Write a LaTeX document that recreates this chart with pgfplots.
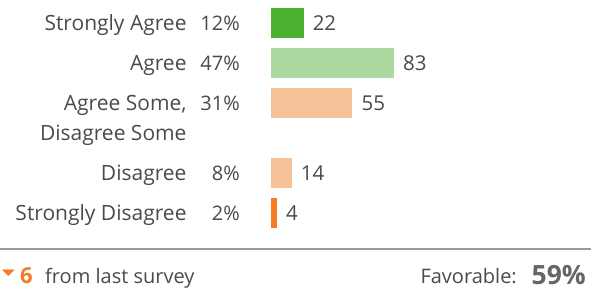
\documentclass[border=0pt]{standalone}
\usepackage{fontspec}
\setmainfont{Open Sans}
\newfontfamily\symfont{DejaVu Sans}
\usepackage{pgfplots}
\pgfplotsset{compat=1.18}
\definecolor{txt}{HTML}{4A4A4A}
\definecolor{cSA}{HTML}{4AB22F}
\definecolor{cA}{HTML}{ADD8A0}
\definecolor{cN}{HTML}{F5C196}
\definecolor{cSD}{HTML}{F57A24}
\definecolor{rule}{HTML}{9A9A9A}
\definecolor{fav}{HTML}{666666}
\begin{document}
\begin{tikzpicture}
\begin{axis}[
  scale only axis, width=601pt, height=289pt,
  xmin=-183.1, xmax=222.97, ymin=0, ymax=289, y dir=reverse,
  axis line style={draw=none}, tick style={draw=none},
  xtick=\empty,
  ytick={23,63,103,173,213},
  yticklabels={Strongly Agree, Agree, {\begin{tabular}[t]{@{}r@{}}Agree Some,\\Disagree Some\end{tabular}}, Disagree, Strongly Disagree},
  yticklabel style={anchor=base east, xshift=191pt, yshift=-7.5pt, inner sep=0pt, font=\fontsize{21}{30}\selectfont, text=txt},
  xbar, bar shift=0pt, bar width=30,
  nodes near coords,
  /pgf/number format/assume math mode=true,
  nodes near coords style={anchor=west, xshift=9pt, inner sep=0pt, font=\fontsize{20.5}{24}\selectfont, text=txt},
  point meta=x,
  clip=false,
]
\addplot[fill=cSA, draw=none] coordinates {(22,23)};
\addplot[fill=cA, draw=none] coordinates {(83,63)};
\addplot[fill=cN, draw=none] coordinates {(55,103)};
\addplot[fill=cN, draw=none] coordinates {(14,173)};
\addplot[fill=cSD, draw=none] coordinates {(4,213)};
\begin{scope}[every node/.style={anchor=base east, inner sep=0pt, font=\fontsize{20}{24}\selectfont, text=txt, yshift=-7.5pt}]
\node at (axis cs:-20.95,23) {12\%};
\node at (axis cs:-20.95,63) {47\%};
\node at (axis cs:-20.95,103) {31\%};
\node at (axis cs:-20.95,173) {8\%};
\node at (axis cs:-20.95,213) {2\%};
\end{scope}
\draw[rule, line width=2pt] (axis cs:-183.1,249) -- (axis cs:216.22,249);
\node[anchor=center, inner sep=0pt, text=cSD, font=\symfont\fontsize{17}{17}\selectfont] at (axis cs:-177.36,273) {\scalebox{1}[0.5]{▼}};
\node[anchor=base west, inner sep=0pt, text depth=0pt, text=cSD, font=\fontsize{22}{24}\selectfont\bfseries] at (axis cs:-169.59,283) {6};
\node[anchor=base west, inner sep=0pt, text depth=0pt, text=txt, font=\fontsize{20}{24}\selectfont] at (axis cs:-152.70,283) {from last survey};
\node[anchor=base east, inner sep=0pt, text depth=0pt, text=txt, font=\fontsize{20}{24}\selectfont] at (axis cs:166.22,283) {Favorable:};
\node[anchor=base east, inner sep=0pt, text depth=0pt, text=fav, font=\fontsize{26.5}{28}\selectfont\bfseries] at (axis cs:212.84,284) {59\%};
\end{axis}
\pgfresetboundingbox
\useasboundingbox (current axis.south west) rectangle (current axis.north east);
\end{tikzpicture}
\end{document}
